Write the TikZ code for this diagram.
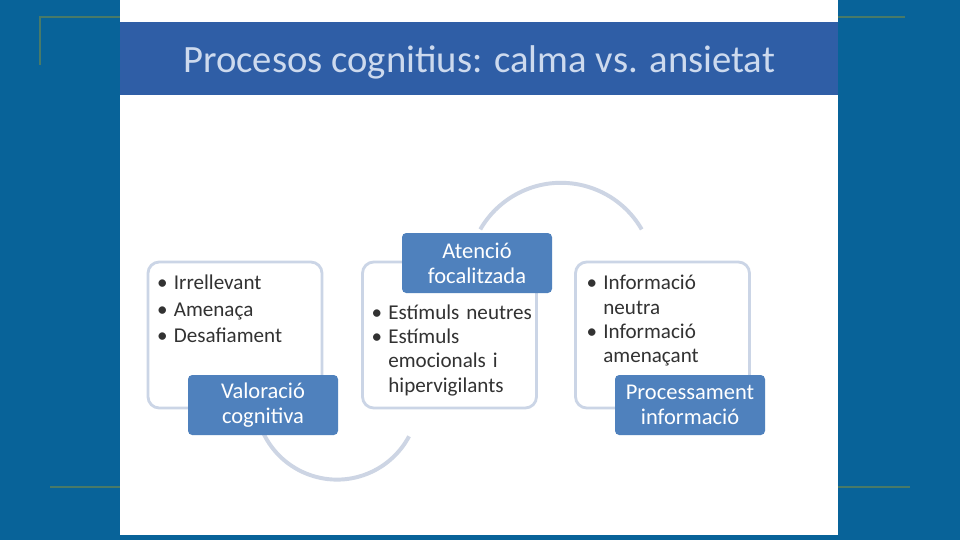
\documentclass[tikz,border=0pt]{standalone}
\usepackage{fontspec}
\setmainfont{Carlito}
\usetikzlibrary{positioning}
\definecolor{slideblue}{RGB}{8,99,153}
\definecolor{titleblue}{RGB}{47,94,166}
\definecolor{titletext}{RGB}{205,218,238}
\definecolor{labelblue}{RGB}{79,129,189}
\definecolor{boxline}{RGB}{203,213,230}
\definecolor{arcgray}{RGB}{205,213,228}
\definecolor{decogreen}{RGB}{72,122,104}
\definecolor{textgray}{RGB}{50,50,50}
\tikzset{
  listbox/.style={draw=boxline,line width=2pt,rounded corners=8pt,fill=white,minimum width=4.35cm,minimum height=3.65cm},
  labelbox/.style={fill=labelblue,rounded corners=3pt,minimum width=3.75cm,minimum height=1.5cm,text=white,align=center,font=\fontsize{16}{18}\selectfont},
  listtext/.style={anchor=north west,text width=4.6cm,inner sep=0pt,align=left,text=textgray,font=\fontsize{15}{17.3}\selectfont},
  looparc/.style={draw=arcgray,line width=2.8pt},
  decoline/.style={draw=decogreen,line width=2pt}
}
\newenvironment{blist}[1][0pt]{\begin{list}{\textbullet}{\setlength\leftmargin{0.9em}\setlength\labelwidth{0.6em}%
  \setlength\labelsep{0.3em}\setlength\itemsep{#1}\setlength\topsep{0pt}\setlength\parsep{0pt}\setlength\partopsep{0pt}}\raggedright}{\end{list}}

\begin{document}
\begin{tikzpicture}
    % background and frame lines
    \fill[slideblue] (0,0) rectangle (24,13.5);
    \draw[decoline] (1,11.875) -- (1,13.075) -- (22.625,13.075);
    \draw[decoline] (1.25,1.325) -- (22.75,1.325);
    % slide
    \fill[white] (3,0.125) rectangle (20.95,13.5);
    \fill[titleblue] (3,11.125) rectangle (20.95,12.95);
    \node[text=titletext,font=\fontsize{27.5}{32}\selectfont] (title) at (11.98,11.93) {Procesos cognitius: calma vs. ansietat};

    % arcs
    \coordinate (arcup) at (14.025,6.6);
    \coordinate (arcdown) at (8.425,3.55);
    \draw[looparc] ([shift={(30:2.33)}]arcup) arc (30:150:2.33);
    \draw[looparc] ([shift={(205:2.04)}]arcdown) arc (205:332:2.04);

    % lists
    \node[listbox] (valbox) at (5.875,5.125) {};
    \node[listbox] (atebox) at (11.2375,5.125) {};
    \node[listbox] (probox) at (16.5625,5.125) {};
    \node[listtext] (valtext) at ([shift={(0.2,-0.12)}]valbox.north west) {%
      \begin{blist}[1.2pt]\item Irrellevant\item Amenaça\item Desafiament\end{blist}};
    \node[listtext] (atetext) at ([shift={(0.2,-0.85)}]atebox.north west) {%
      \begin{blist}\item \mbox{Estímuls neutres}\item Estímuls\newline \mbox{emocionals i}\newline hipervigilants\end{blist}};
    \node[listtext] (protext) at ([shift={(0.25,-0.12)}]probox.north west) {%
      \begin{blist}\item Informació\newline neutra\item Informació\newline amenaçant\end{blist}};

    % labels
    \node[labelbox] (val) at (6.575,3.375) {Valoració\\cognitiva};
    \node[labelbox] (ate) at (11.925,6.925) {Atenció\\focalitzada};
    \node[labelbox] (pro) at (17.25,3.375) {Processament\\informació};
\end{tikzpicture}
\end{document}
